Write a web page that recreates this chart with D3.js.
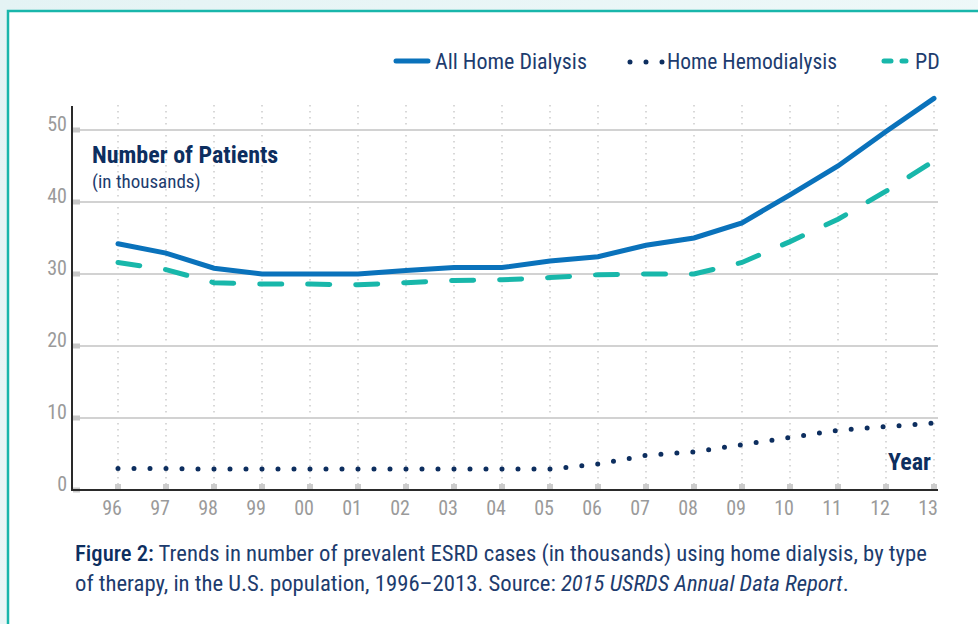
<!DOCTYPE html>
<html>
<head>
<meta charset="utf-8">
<script src="https://cdn.jsdelivr.net/npm/d3@7"></script>
<style>
  html, body { margin: 0; padding: 0; }
  body { width: 978px; height: 624px; overflow: hidden; background: linear-gradient(135deg, #e4f3f4, #f4fbfb); }
  svg { display: block; }
  text { font-family: "Liberation Sans Narrow", "Roboto Condensed", "DejaVu Sans Condensed", sans-serif; }
</style>
</head>
<body>
<svg id="chart" width="978" height="624"></svg>
<script>
// data
var years = [1996, 1997, 1998, 1999, 2000, 2001, 2002, 2003, 2004, 2005, 2006, 2007, 2008, 2009, 2010, 2011, 2012, 2013];
var yearLabels = ['96', '97', '98', '99', '00', '01', '02', '03', '04', '05', '06', '07', '08', '09', '10', '11', '12', '13'];
var allHome = [34.2, 32.9, 30.8, 30.0, 30.0, 30.0, 30.5, 30.9, 30.9, 31.8, 32.4, 34.0, 35.0, 37.1, 41.0, 45.0, 49.8, 54.4];
var homeHemo = [3.0, 3.0, 2.9, 2.9, 2.9, 2.9, 2.9, 2.9, 2.9, 2.9, 3.6, 4.8, 5.3, 6.3, 7.3, 8.3, 8.8, 9.3];
var pd = [31.6, 30.6, 28.8, 28.6, 28.6, 28.5, 28.8, 29.1, 29.2, 29.5, 29.9, 30.0, 30.0, 31.6, 34.5, 37.6, 41.5, 45.7];
var yTicks = [0, 10, 20, 30, 40, 50];

var navy = '#0d2e5f';
var textNavy = '#1d3c6e';
var blue = '#0a72bb';
var teal = '#18b7aa';

var svg = d3.select('#chart');

// panel
svg.append('rect')
    .attr('x', 8).attr('y', 11)
    .attr('width', 990).attr('height', 640)
    .attr('fill', '#fff')
    .attr('stroke', '#19b6ab')
    .attr('stroke-width', 2.5);

var x = d3.scaleLinear().domain([1996, 2013]).range([118, 934]);
var y = d3.scaleLinear().domain([0, 50]).range([490, 130]);

// vertical dotted grid
svg.append('g').selectAll('line')
    .data(years)
    .join('line')
    .attr('x1', d => x(d)).attr('x2', d => x(d))
    .attr('y1', 105).attr('y2', 486)
    .attr('stroke', '#c4c4c4')
    .attr('stroke-width', 1.3)
    .attr('stroke-dasharray', '1.5 4.5');

// horizontal grid
svg.append('g').selectAll('line')
    .data(yTicks.filter(d => d > 0))
    .join('line')
    .attr('x1', 74).attr('x2', 938)
    .attr('y1', d => y(d)).attr('y2', d => y(d))
    .attr('stroke', '#d2d2d2')
    .attr('stroke-width', 2);

// small tick squares on y axis
svg.append('g').selectAll('rect')
    .data(yTicks)
    .join('rect')
    .attr('x', 73).attr('y', d => y(d) - 2.5)
    .attr('width', 7).attr('height', 5)
    .attr('fill', '#c8c8c8');

// small tick squares on x axis
svg.append('g').selectAll('rect')
    .data(years)
    .join('rect')
    .attr('x', d => x(d) - 3).attr('y', 484)
    .attr('width', 6).attr('height', 5)
    .attr('fill', '#cccccc');

// axes lines
svg.append('line')
    .attr('x1', 72).attr('x2', 72).attr('y1', 106).attr('y2', 491)
    .attr('stroke', '#2a2a2a').attr('stroke-width', 2);
svg.append('line')
    .attr('x1', 71).attr('x2', 938).attr('y1', 490).attr('y2', 490)
    .attr('stroke', '#2a2a2a').attr('stroke-width', 2);

// y labels
svg.append('g').selectAll('text')
    .data(yTicks)
    .join('text')
    .attr('x', 67).attr('y', d => y(d) + 1)
    .attr('text-anchor', 'end')
    .attr('fill', '#9a9a9a')
    .style('font-size', '20px')
    .text(d => d);

// x labels
svg.append('g').selectAll('text')
    .data(years)
    .join('text')
    .attr('x', (d, i) => x(d) - 6).attr('y', 515)
    .attr('text-anchor', 'middle')
    .attr('fill', '#9a9a9a')
    .style('font-size', '20px')
    .text((d, i) => yearLabels[i]);

// lines
var line = d3.line().x((d, i) => x(years[i])).y(d => y(d));

svg.append('path')
    .datum(pd)
    .attr('d', line)
    .attr('fill', 'none')
    .attr('stroke', teal)
    .attr('stroke-width', 5)
    .attr('stroke-linecap', 'round')
    .attr('stroke-dasharray', '22 26');

svg.append('path')
    .datum(allHome)
    .attr('d', line)
    .attr('fill', 'none')
    .attr('stroke', blue)
    .attr('stroke-width', 5)
    .attr('stroke-linecap', 'round');

svg.append('path')
    .datum(homeHemo)
    .attr('d', line)
    .attr('fill', 'none')
    .attr('stroke', navy)
    .attr('stroke-width', 5)
    .attr('stroke-linecap', 'round')
    .attr('stroke-dasharray', '0 16');

// axis titles
svg.append('text')
    .attr('x', 92).attr('y', 163)
    .attr('fill', navy)
    .style('font-size', '24px').style('font-weight', 'bold')
    .text('Number of Patients');
svg.append('text')
    .attr('x', 92).attr('y', 188)
    .attr('fill', textNavy)
    .style('font-size', '19px')
    .text('(in thousands)');
svg.append('text')
    .attr('x', 931).attr('y', 470)
    .attr('text-anchor', 'end')
    .attr('fill', navy)
    .style('font-size', '24px').style('font-weight', 'bold')
    .text('Year');

// legend
var legend = svg.append('g');
legend.append('line')
    .attr('x1', 396).attr('x2', 428).attr('y1', 61).attr('y2', 61)
    .attr('stroke', blue).attr('stroke-width', 5).attr('stroke-linecap', 'round');
legend.append('text')
    .attr('x', 435).attr('y', 69)
    .attr('fill', textNavy).style('font-size', '22px')
    .text('All Home Dialysis');
legend.append('line')
    .attr('x1', 630).attr('x2', 663).attr('y1', 62).attr('y2', 62)
    .attr('stroke', navy).attr('stroke-width', 5).attr('stroke-linecap', 'round')
    .attr('stroke-dasharray', '0 16');
legend.append('text')
    .attr('x', 667).attr('y', 69)
    .attr('fill', textNavy).style('font-size', '21.5px')
    .text('Home Hemodialysis');
legend.append('line')
    .attr('x1', 884).attr('x2', 906).attr('y1', 61).attr('y2', 61)
    .attr('stroke', teal).attr('stroke-width', 5).attr('stroke-linecap', 'round')
    .attr('stroke-dasharray', '7 11');
legend.append('text')
    .attr('x', 915).attr('y', 69)
    .attr('fill', textNavy).style('font-size', '22px')
    .text('PD');

// caption
var cap1 = svg.append('text')
    .attr('x', 75).attr('y', 561)
    .attr('fill', textNavy).style('font-size', '22.7px');
cap1.append('tspan').style('font-weight', '500').attr('fill', navy).text('Figure 2:');
cap1.append('tspan').text(' Trends in number of prevalent ESRD cases (in thousands) using home dialysis, by type');

var cap2 = svg.append('text')
    .attr('x', 75).attr('y', 591)
    .attr('fill', textNavy).style('font-size', '22.7px');
cap2.append('tspan').text('of therapy, in the U.S. population, 1996\u20132013. Source: ');
cap2.append('tspan').style('font-style', 'italic').text('2015 USRDS Annual Data Report');
cap2.append('tspan').text('.');
</script>
</body>
</html>
